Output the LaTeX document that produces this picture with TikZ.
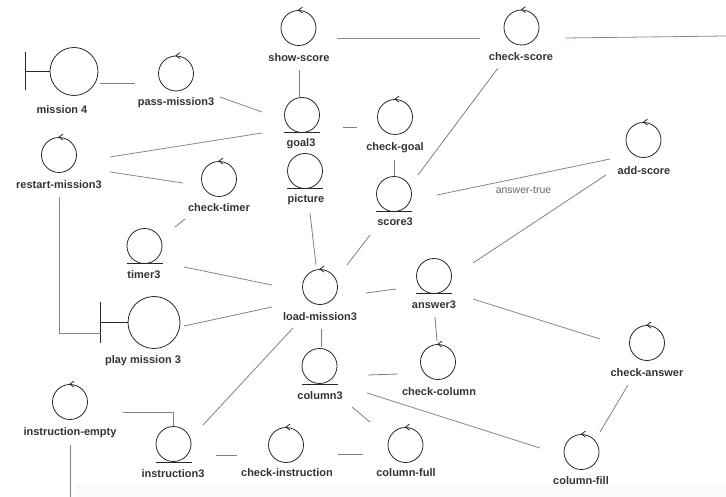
\documentclass[tikz,border=0pt]{standalone}
\usepackage{fontspec}
\setmainfont{Liberation Sans}
\usetikzlibrary{calc}
\begin{document}
\begin{tikzpicture}[x=1pt,y=-1pt,
  sym/.style={circle,draw=black!85,line width=0.8pt,inner sep=0pt,minimum size=35pt},
  lbl/.style={font=\bfseries\fontsize{11}{13}\selectfont,text=black!80,inner sep=0pt},
  small/.style={font=\fontsize{10.5}{12}\selectfont,text=black!60,inner sep=0pt},
  conn/.style={draw=black!50,line width=0.8pt},
  rconn/.style={draw={rgb,255:red,160;green,125;blue,125},line width=0.8pt},
  symline/.style={draw=black!85,line width=0.8pt},
]
\useasboundingbox (0,0) rectangle (726,497);
\fill[black!2] (76,484) rectangle (726,497);

% boundaries
\node[sym,minimum size=48pt] (m4) at (74,71.5) {};
\node[sym,minimum size=52pt] (play) at (154,322.5) {};
% controls
\node[sym] (pass) at (176,73.5) {};
\node[sym] (show) at (298.5,28) {};
\node[sym] (cgoal) at (395,117) {};
\node[sym] (cscore) at (521.5,27.5) {};
\node[sym] (adds) at (643.5,140) {};
\node[sym] (restart) at (59,155) {};
\node[sym] (ctimer) at (219,179) {};
\node[sym] (load) at (320,287) {};
\node[sym] (ccol) at (438,362) {};
\node[sym] (cans) at (647,343) {};
\node[sym] (cfull) at (405.5,445) {};
\node[sym] (cfill) at (581.5,452) {};
\node[sym] (iempty) at (70,402) {};
\node[sym] (cinstr) at (286,445) {};
% entities
\node[sym] (goal) at (302,115) {};
\node[sym] (pic) at (305,171) {};
\node[sym] (score) at (394,194) {};
\node[sym] (timer) at (144.5,246) {};
\node[sym] (ans) at (434,276) {};
\node[sym] (col) at (319.5,366) {};
\node[sym] (instr) at (173.5,444) {};

% control arrowheads
\foreach \n in {pass,show,cgoal,cscore,adds,restart,ctimer,load,ccol,cans,cfull,cfill,iempty,cinstr}
  \draw[symline] ($(\n.north)+(4,-3)$) -- (\n.north) -- ($(\n.north)+(4,3)$);
% entity underlines
\foreach \n in {goal,pic,score,timer,ans,col,instr}
  \draw[symline] ($(\n.south)+(-18,0)$) -- ($(\n.south)+(18,0)$);
% boundary bars
\draw[symline] ($(m4.west)+(-24,-19)$) -- ($(m4.west)+(-24,19)$);
\draw[symline] ($(m4.west)+(-24,0)$) -- (m4.west);
\draw[symline] ($(play.west)+(-27,-20)$) -- ($(play.west)+(-27,20)$);
\draw[symline] ($(play.west)+(-27,0)$) -- (play.west);

% labels
\node[lbl] (m4-l) at (62,110) {mission 4};
\node[lbl] (play-l) at (143,361) {play mission 3};
\node[lbl] (pass-l) at (176,103) {pass-mission3};
\node[lbl] (show-l) at (299,58) {show-score};
\node[lbl] (cgoal-l) at (395,148) {check-goal};
\node[lbl] (cscore-l) at (521,57) {check-score};
\node[lbl] (adds-l) at (644,171) {add-score};
\node[lbl] (restart-l) at (59,185) {restart-mission3};
\node[lbl] (ctimer-l) at (219,208) {check-timer};
\node[lbl] (load-l) at (320,317) {load-mission3};
\node[lbl] (ccol-l) at (439,392) {check-column};
\node[lbl] (cans-l) at (647,373) {check-answer};
\node[lbl] (cfull-l) at (406,473) {column-full};
\node[lbl] (cfill-l) at (581,481) {column-fill};
\node[lbl] (iempty-l) at (70,433) {instruction-empty};
\node[lbl] (cinstr-l) at (287,473) {check-instruction};
\node[lbl] (goal-l) at (301,144) {goal3};
\node[lbl] (pic-l) at (306,200) {picture};
\node[lbl] (score-l) at (395,222) {score3};
\node[lbl] (timer-l) at (144,275) {timer3};
\node[lbl] (ans-l) at (434,305) {answer3};
\node[lbl] (col-l) at (320,396) {column3};
\node[lbl] (instr-l) at (173,474) {instruction3};

\coordinate (rightend) at (726,36);
\coordinate (bottomend) at (70,497);

% connectors
\draw[conn] ($(m4)+(26,11.5)$) -- ($(pass)+(-41,9.5)$);
\draw[rconn] ($(pass)+(44,23.5)$) -- ($(goal)+(-40,-3)$);
\draw[conn] ($(show)+(0.5,42)$) -- ($(goal.north)+(-3,0)$);
\draw[rconn] ($(show)+(38.5,10)$) -- ($(cscore)+(-41.5,10.5)$);
\draw[rconn] ($(cscore)+(43.5,10.5)$) -- (rightend);
\draw[conn] ($(goal)+(41,12)$) -- ($(cgoal)+(-38,10)$);
\draw[rconn] ($(restart)+(51,2)$) -- ($(goal)+(-40,18)$);
\draw[rconn] ($(restart)+(51,17)$) -- ($(ctimer)+(-36,4)$);
\draw[conn] ($(ctimer)+(-34,40)$) -- ($(timer)+(30.5,-19)$);
\draw[rconn] ($(restart)+(0,42)$) |- ($(play)+(-53,10.5)$);
\draw[conn] ($(pic)+(5,42)$) -- ($(load)+(-4,-22)$);
\draw[conn] ($(score)+(-24,41)$) -- ($(load)+(27,-22)$);
\draw[conn] ($(cgoal)+(-1,43)$) -- (score.north);
\draw[conn] ($(cscore)+(-23.5,40.5)$) -- ($(score)+(24,-19)$);
\draw[rconn] ($(score)+(43,1)$) -- node[small,pos=0.5,below=9pt] (at-l) {answer-true} ($(adds)+(-33.5,19)$);
\draw[conn] ($(adds)+(-37.5,35)$) -- ($(ans)+(39,-13)$);
\draw[rconn] ($(timer)+(39.5,21)$) -- ($(load)+(-48,-2)$);
\draw[conn] ($(play)+(30,3.5)$) -- ($(load)+(-48,20)$);
\draw[conn] ($(load)+(46,6)$) -- ($(ans)+(-38,13)$);
\draw[conn] ($(ans)+(1,41)$) -- ($(ccol)+(-1,-21)$);
\draw[rconn] ($(ans)+(39,23)$) -- ($(cans)+(-47,-4)$);
\draw[conn] ($(load)+(1,42)$) -- ($(col)+(1.5,-19)$);
\draw[conn] ($(load)+(-27,41)$) -- ($(instr)+(29.5,-19)$);
\draw[conn] ($(col)+(48.5,9)$) -- ($(ccol)+(-40,12)$);
\draw[rconn] ($(col)+(47.5,27)$) -- ($(cfill)+(-41.5,-4)$);
\draw[conn] ($(col)+(32.5,41)$) -- ($(cfull)+(-35.5,-23)$);
\draw[conn] ($(cans)+(-19,42)$) -- ($(cfill)+(18.5,-20)$);
\draw[conn] ($(iempty)+(53,10)$) -| (instr.north);
\draw[conn] ($(iempty)+(0,43)$) -- (bottomend);
\draw[conn] ($(instr)+(42.5,11)$) -- ($(cinstr)+(-49,10)$);
\draw[conn] ($(cinstr)+(52,9)$) -- ($(cfull)+(-42.5,9)$);
\end{tikzpicture}
\end{document}
